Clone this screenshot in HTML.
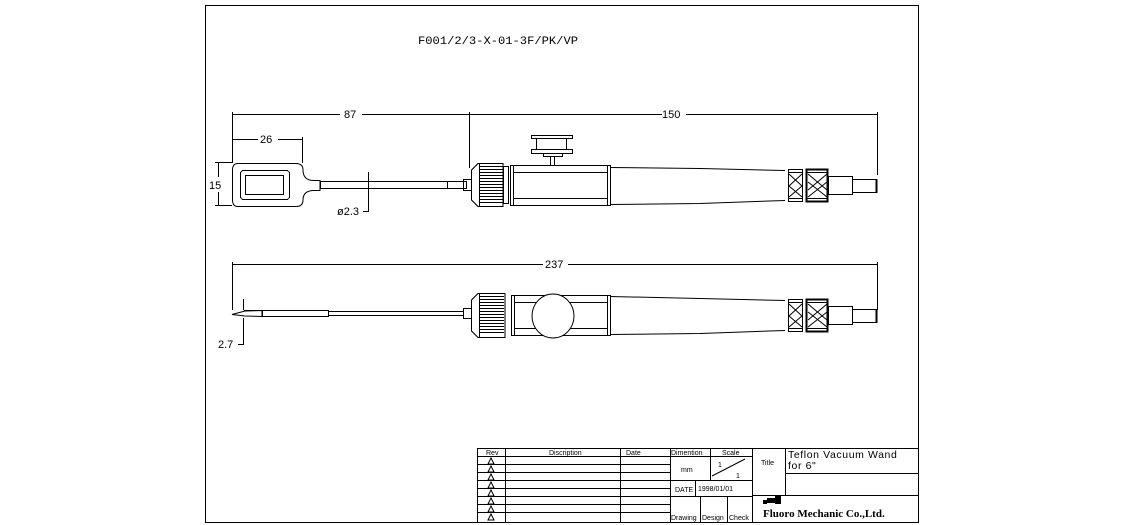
<!DOCTYPE html>
<html><head><meta charset="utf-8"><style>
html,body{margin:0;padding:0;background:#fff}
svg{display:block}
text{font-family:"Liberation Sans",sans-serif;fill:#000}
</style></head><body>
<svg width="1125" height="525" viewBox="0 0 1125 525" xmlns="http://www.w3.org/2000/svg">
<g fill="none" stroke="#000" stroke-width="1" shape-rendering="crispEdges">
<!-- frame -->
<rect x="205.5" y="5.5" width="713" height="517"/>
<!-- title block -->
<line x1="477" y1="448.5" x2="918" y2="448.5"/>
<line x1="477.5" y1="448" x2="477.5" y2="522"/>
<line x1="505.5" y1="448" x2="505.5" y2="522"/>
<line x1="620.5" y1="448" x2="620.5" y2="522"/>
<line x1="670.5" y1="448" x2="670.5" y2="522"/>
<line x1="752.5" y1="448" x2="752.5" y2="522"/>
<line x1="785.5" y1="448" x2="785.5" y2="495"/>
<line x1="477" y1="456.5" x2="752" y2="456.5"/>
<line x1="477" y1="464.5" x2="670" y2="464.5"/>
<line x1="477" y1="472.5" x2="670" y2="472.5"/>
<line x1="477" y1="480.5" x2="752" y2="480.5"/>
<line x1="477" y1="488.5" x2="670" y2="488.5"/>
<line x1="477" y1="496.5" x2="752" y2="496.5"/>
<line x1="477" y1="504.5" x2="670" y2="504.5"/>
<line x1="477" y1="512.5" x2="670" y2="512.5"/>
<line x1="710.5" y1="448" x2="710.5" y2="480"/>
<line x1="695.5" y1="480" x2="695.5" y2="497"/>
<line x1="700.5" y1="497" x2="700.5" y2="522"/>
<line x1="727.5" y1="497" x2="727.5" y2="522"/>
<line x1="785" y1="473.5" x2="918" y2="473.5"/>
<line x1="752" y1="495.5" x2="918" y2="495.5"/>
<line x1="712" y1="476" x2="745" y2="459" shape-rendering="auto"/>

<!-- ===== TOP VIEW ===== -->
<!-- dims -->
<line x1="232" y1="114.5" x2="340" y2="114.5"/><line x1="362" y1="114.5" x2="469" y2="114.5"/>
<line x1="469" y1="114.5" x2="662" y2="114.5"/><line x1="686" y1="114.5" x2="877" y2="114.5"/>
<line x1="232" y1="139.5" x2="258" y2="139.5"/><line x1="278" y1="139.5" x2="302" y2="139.5"/>
<line x1="232.5" y1="112" x2="232.5" y2="163"/>
<line x1="302.5" y1="137" x2="302.5" y2="163"/>
<line x1="469.5" y1="112" x2="469.5" y2="168"/>
<line x1="877.5" y1="112" x2="877.5" y2="175"/>
<line x1="218.5" y1="163" x2="218.5" y2="177"/><line x1="218.5" y1="192" x2="218.5" y2="206"/>
<line x1="215" y1="162.5" x2="232" y2="162.5"/><line x1="215" y1="205.5" x2="232" y2="205.5"/>
<line x1="368.5" y1="172" x2="368.5" y2="212"/><line x1="363" y1="211.5" x2="368" y2="211.5"/>
<!-- paddle -->
<path d="M238 163.5 H296 Q303 163.5 303 170 Q303 180 313 180.5 H320 V190.5 H313 Q303 191 303 200 Q303 206.5 296 206.5 H238 Q232.5 206.5 232.5 200 V170 Q232.5 163.5 238 163.5 Z" shape-rendering="auto"/>
<rect x="240.5" y="170.5" width="49" height="29" rx="3"/>
<rect x="245.5" y="175.5" width="38" height="19"/>
<!-- rod -->
<rect x="320.5" y="181.5" width="146" height="7"/>
<line x1="447.5" y1="182" x2="447.5" y2="188"/>
<rect x="463.5" y="179.5" width="8" height="11"/>
<!-- knurled nut -->
<path d="M478 163.5 H503 V206.5 H478 L471.5 200 V170 Z"/>
<g stroke-width="1">
<line x1="480" y1="166.5" x2="503" y2="166.5"/><line x1="480" y1="169.5" x2="503" y2="169.5"/><line x1="480" y1="172.5" x2="503" y2="172.5"/><line x1="480" y1="175.5" x2="503" y2="175.5"/><line x1="480" y1="178.5" x2="503" y2="178.5"/><line x1="480" y1="181.5" x2="503" y2="181.5"/><line x1="480" y1="184.5" x2="503" y2="184.5"/><line x1="480" y1="187.5" x2="503" y2="187.5"/><line x1="480" y1="190.5" x2="503" y2="190.5"/><line x1="480" y1="193.5" x2="503" y2="193.5"/><line x1="480" y1="196.5" x2="503" y2="196.5"/><line x1="480" y1="199.5" x2="503" y2="199.5"/><line x1="480" y1="202.5" x2="503" y2="202.5"/>
</g>
<line x1="479.5" y1="164" x2="479.5" y2="206"/>
<rect x="503.5" y="166.5" width="5" height="37"/>
<!-- hex body -->
<rect x="510.5" y="165.5" width="100" height="40"/>
<line x1="513" y1="172.5" x2="608" y2="172.5"/><line x1="513" y1="198.5" x2="608" y2="198.5"/>
<line x1="513.5" y1="166" x2="513.5" y2="205"/><line x1="607.5" y1="166" x2="607.5" y2="205"/>
<!-- knob -->
<rect x="531.5" y="135.5" width="41" height="3"/>
<rect x="536.5" y="138.5" width="30" height="11"/>
<rect x="531.5" y="149.5" width="41" height="4"/>
<rect x="543.5" y="153.5" width="19" height="3"/>
<rect x="550.5" y="156.5" width="4" height="9"/>
<!-- tapered handle -->
<path d="M610 167.5 L700 168.5 L785 170.5 M610 204.5 L700 203.5 L785 200.5" shape-rendering="auto"/>
<!-- rings -->
<rect x="788.5" y="169.5" width="14" height="32"/>
<rect x="806.5" y="169.5" width="21" height="32" stroke-width="2"/>
<line x1="788" y1="172.5" x2="802" y2="172.5"/><line x1="788" y1="198.5" x2="802" y2="198.5"/>
<line x1="807" y1="172.5" x2="827" y2="172.5"/><line x1="807" y1="198.5" x2="827" y2="198.5"/>
<path d="M789 174 L802 186 L789 197 M802 174 L789 186 L802 197 M808 174 L827 190 M827 174 L808 190 M808 182 L827 197 M827 182 L808 197" shape-rendering="auto"/>
<rect x="828.5" y="176.5" width="24" height="18"/>
<rect x="852.5" y="179.5" width="24" height="13"/>
<line x1="876.5" y1="179" x2="876.5" y2="193" stroke-width="2"/>

<!-- ===== BOTTOM VIEW ===== -->
<line x1="232" y1="264.5" x2="543" y2="264.5"/><line x1="568" y1="264.5" x2="877" y2="264.5"/>
<line x1="232.5" y1="262" x2="232.5" y2="310"/>
<line x1="877.5" y1="262" x2="877.5" y2="310"/>
<line x1="243.5" y1="299" x2="243.5" y2="310"/><line x1="243.5" y1="318" x2="243.5" y2="345"/>
<line x1="238" y1="344.5" x2="243" y2="344.5"/>
<!-- tip -->
<path d="M232 314.5 L245 311 L262 310.5 L262 316.5 L245 316 Z" shape-rendering="auto"/>
<line x1="244" y1="310.5" x2="264" y2="310.5"/>
<rect x="262.5" y="310.5" width="66" height="6"/>
<rect x="328.5" y="311.5" width="135" height="4"/>
<rect x="463.5" y="308.5" width="8" height="10"/>
<!-- nut -->
<path d="M478 293.5 H505 V337.5 H478 L471.5 331 V300 Z"/>
<line x1="480" y1="296.5" x2="504" y2="296.5"/><line x1="480" y1="299.5" x2="504" y2="299.5"/><line x1="480" y1="302.5" x2="504" y2="302.5"/><line x1="480" y1="305.5" x2="504" y2="305.5"/><line x1="480" y1="308.5" x2="504" y2="308.5"/><line x1="480" y1="311.5" x2="504" y2="311.5"/><line x1="480" y1="314.5" x2="504" y2="314.5"/><line x1="480" y1="317.5" x2="504" y2="317.5"/><line x1="480" y1="320.5" x2="504" y2="320.5"/><line x1="480" y1="323.5" x2="504" y2="323.5"/><line x1="480" y1="326.5" x2="504" y2="326.5"/><line x1="480" y1="329.5" x2="504" y2="329.5"/><line x1="480" y1="332.5" x2="504" y2="332.5"/>
<line x1="479.5" y1="294" x2="479.5" y2="337"/>
<!-- body -->
<rect x="511.5" y="295.5" width="99" height="40"/>
<line x1="514" y1="302.5" x2="608" y2="302.5"/><line x1="514" y1="328.5" x2="608" y2="328.5"/>
<line x1="514.5" y1="296" x2="514.5" y2="335"/><line x1="607.5" y1="296" x2="607.5" y2="335"/>
<ellipse cx="553" cy="316" rx="21" ry="22" fill="#fff" shape-rendering="auto"/>
<path d="M610 296.5 L700 298.5 L785 300.5 M610 334.5 L700 333.5 L785 330.5" shape-rendering="auto"/>
<rect x="788.5" y="299.5" width="14" height="32"/>
<rect x="806.5" y="299.5" width="21" height="32" stroke-width="2"/>
<line x1="788" y1="302.5" x2="802" y2="302.5"/><line x1="788" y1="328.5" x2="802" y2="328.5"/>
<line x1="807" y1="302.5" x2="827" y2="302.5"/><line x1="807" y1="328.5" x2="827" y2="328.5"/>
<path d="M789 304 L802 316 L789 327 M802 304 L789 316 L802 327 M808 304 L827 320 M827 304 L808 320 M808 312 L827 327 M827 312 L808 327" shape-rendering="auto"/>
<rect x="828.5" y="306.5" width="24" height="18"/>
<rect x="852.5" y="309.5" width="24" height="13"/>
<line x1="876.5" y1="309" x2="876.5" y2="323" stroke-width="2"/>
</g>

<!-- Rev triangles -->
<g fill="none" stroke="#000" stroke-width="1">
<path d="M488 464 L491 458 L494 464 Z M488 472 L491 466 L494 472 Z M488 480 L491 474 L494 480 Z M488 488 L491 482 L494 488 Z M488 496 L491 490 L494 496 Z M488 504 L491 498 L494 504 Z M488 512 L491 506 L494 512 Z M488 520 L491 514 L494 520 Z"/>
</g>
<!-- logo -->
<path d="M763 500 h4 v-2 h8 v-2 h6 v8 h-6 v-1 h-8 v1 h-4 z" fill="#000"/>

<!-- text -->
<text x="418" y="44" font-size="11" font-family="Liberation Mono" textLength="160" lengthAdjust="spacingAndGlyphs" style="font-family:'Liberation Mono',monospace">F001/2/3-X-01-3F/PK/VP</text>
<text x="344" y="118" font-size="11">87</text>
<text x="662" y="118" font-size="11">150</text>
<text x="260" y="143" font-size="11">26</text>
<text x="209" y="189" font-size="11">15</text>
<text x="337" y="215" font-size="11">ø2.3</text>
<text x="545" y="268" font-size="11">237</text>
<text x="218" y="348" font-size="11">2.7</text>
<g font-size="7">
<text x="486" y="455">Rev</text>
<text x="549" y="455">Discription</text>
<text x="626" y="455">Date</text>
<text x="671" y="455">Dimention</text>
<text x="722" y="455">Scale</text>
<text x="681" y="472">mm</text>
<text x="718" y="467">1</text>
<text x="736" y="478">1</text>
<text x="761" y="465">Title</text>
<text x="675" y="492">DATE</text>
<text x="698" y="491">1998/01/01</text>
<text x="671" y="520">Drawing</text>
<text x="702" y="520">Design</text>
<text x="729" y="520">Check</text>
</g>
<text x="788" y="458" font-size="10.5" letter-spacing="0.6">Teflon Vacuum Wand</text>
<text x="788" y="469" font-size="10.5" letter-spacing="0.6">for 6"</text>
<text x="763" y="517" font-size="11" font-weight="bold" style="font-family:'Liberation Serif',serif">Fluoro Mechanic Co.,Ltd.</text>
</svg>
</body></html>
